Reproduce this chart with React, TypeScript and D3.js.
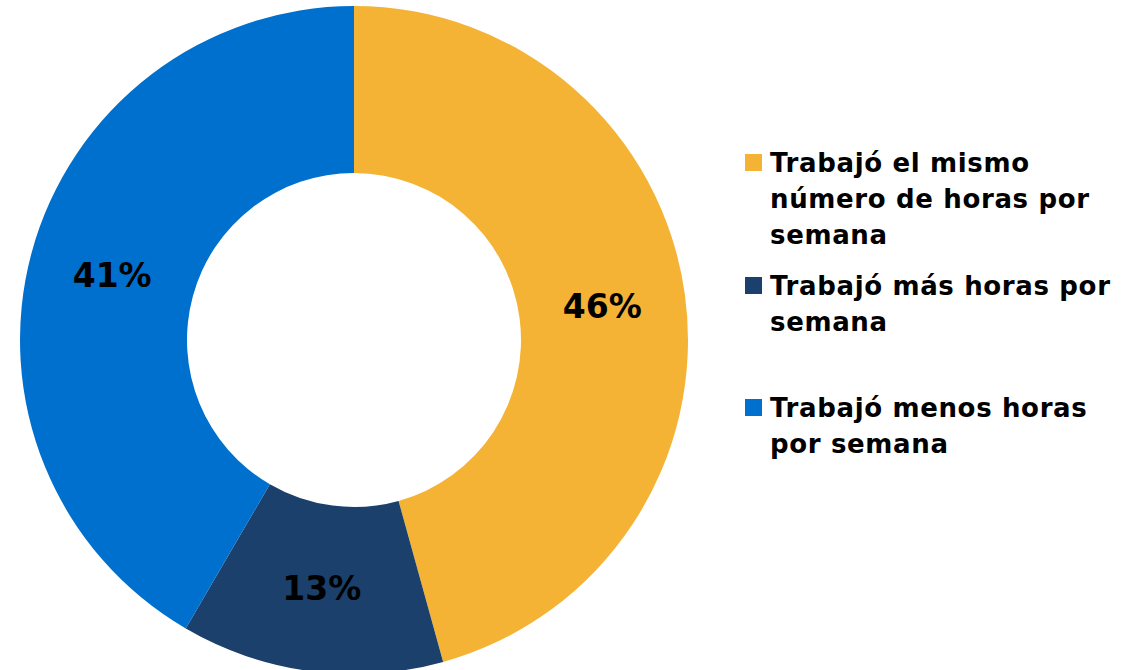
import React, { useEffect, useRef } from 'react';
import * as d3 from 'd3';

const categories = [
  'Trabajó el mismo número de horas por semana',
  'Trabajó más horas por semana',
  'Trabajó menos horas por semana',
];
const values = [45.7, 12.7, 41.6];
const labels = ['46%', '13%', '41%'];
const legendLines = [
  ['Trabajó el mismo', 'número de horas por', 'semana'],
  ['Trabajó más horas por', 'semana'],
  ['Trabajó menos horas', 'por semana'],
];
const colors = ['#F4B335', '#1A406B', '#0070CF'];

export default function App() {
  const svgRef = useRef<SVGSVGElement>(null);

  useEffect(() => {
    if (!svgRef.current) return;
    const svg = d3.select(svgRef.current);
    svg.selectAll('*').remove();

    const cx = 354;
    const cy = 340;
    const outer = 334;
    const inner = 167;
    const font = '"DejaVu Sans", sans-serif';

    const data = categories.map((c, i) => ({ name: c, value: values[i], label: labels[i] }));

    const pie = d3.pie<any>().value(d => d.value).sort(null);
    const arc = d3.arc<any>().innerRadius(inner).outerRadius(outer);
    const labelArc = d3.arc<any>().innerRadius((inner + outer) / 2).outerRadius((inner + outer) / 2);

    const g = svg.append('g').attr('transform', `translate(${cx},${cy})`);

    const arcs = g.selectAll('.arc')
      .data(pie(data))
      .enter()
      .append('g')
      .attr('class', 'arc');

    arcs.append('path')
      .attr('d', arc)
      .attr('fill', (_, i) => colors[i]);

    arcs.append('text')
      .attr('transform', d => `translate(${labelArc.centroid(d)})`)
      .attr('dy', '.36em')
      .attr('text-anchor', 'middle')
      .style('font-family', font)
      .style('font-weight', 'bold')
      .style('font-size', '33px')
      .attr('fill', '#000')
      .text(d => d.data.label);

    // legend
    const legendX = 745;
    const itemTops = [154, 277, 399];
    const lineH = 36;

    const items = svg.selectAll('.legend')
      .data(data)
      .enter()
      .append('g')
      .attr('class', 'legend')
      .attr('transform', (_, i) => `translate(${legendX},${itemTops[i]})`);

    items.append('rect')
      .attr('x', 0)
      .attr('y', 0)
      .attr('width', 17)
      .attr('height', 17)
      .attr('fill', (_, i) => colors[i]);

    items.each(function (_, i) {
      const t = d3.select(this).append('text')
        .attr('x', 25)
        .attr('y', 18)
        .style('font-family', font)
        .style('font-weight', 'bold')
        .style('font-size', '26px')
        .style('letter-spacing', '0.65px')
        .attr('fill', '#000');
      legendLines[i].forEach((line, j) => {
        t.append('tspan')
          .attr('x', 25)
          .attr('dy', j === 0 ? 0 : lineH)
          .text(line);
      });
    });
  }, []);

  return (
    <svg
      ref={svgRef}
      width={1127}
      height={670}
      style={{ position: 'absolute', left: 0, top: 0, background: '#fff' }}
    />
  );
}
